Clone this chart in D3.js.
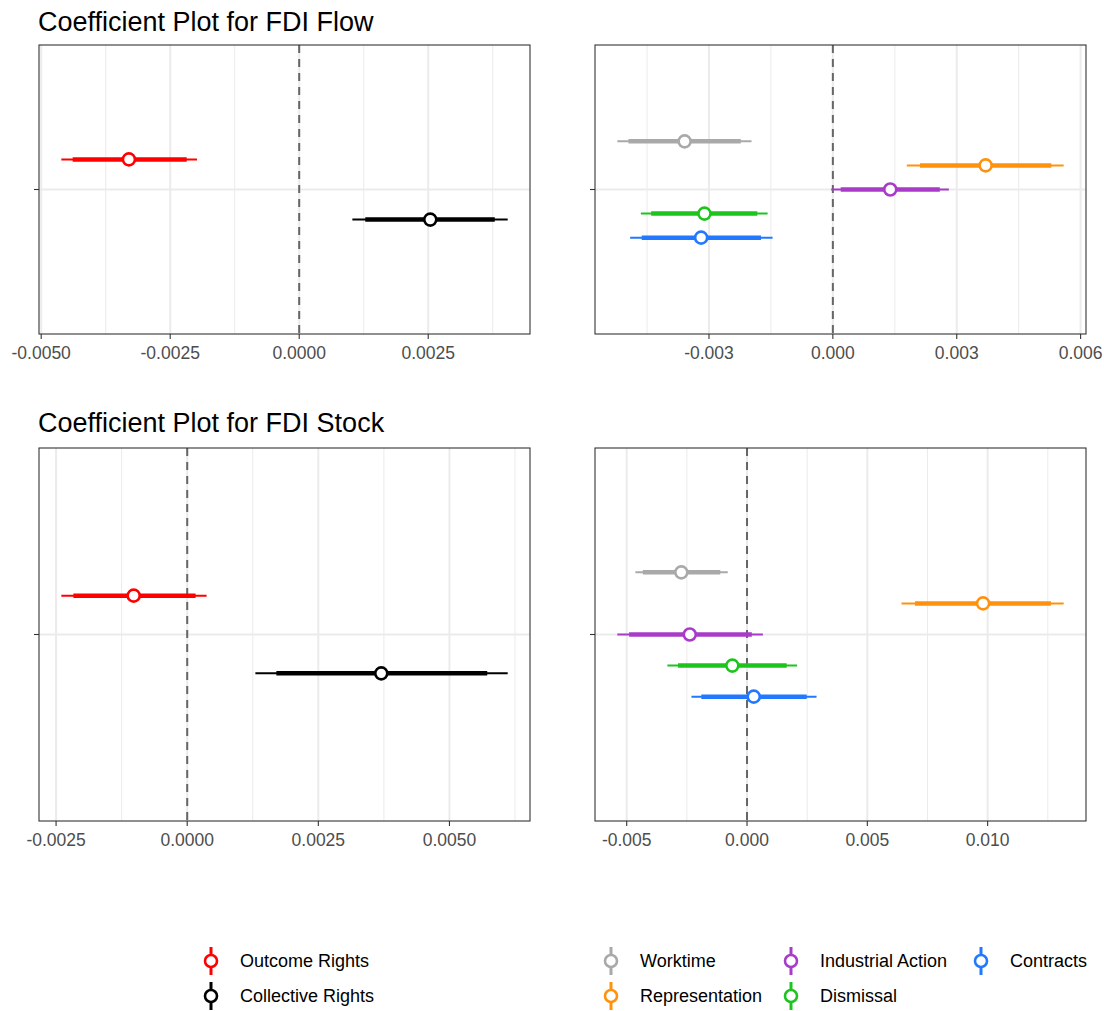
<!DOCTYPE html>
<html>
<head>
<meta charset="utf-8">
<script src="https://cdn.jsdelivr.net/npm/d3@7"></script>
<style>
  body { margin: 0; background: #fff; }
  svg { font-family: "Liberation Sans", Arial, sans-serif; }
</style>
</head>
<body>
<div id="chart"></div>
<script>
// ---- data ----
// each series: estimate, thick interval (lo, hi), thin interval (lo, hi)
var aggNames = ["Outcome Rights", "Collective Rights"]
var aggColors = ["#ff0000", "#000000"]

var subNames = ["Worktime", "Representation", "Industrial Action", "Dismissal", "Contracts"]
var subColors = ["#a9a9a9", "#ff920c", "#a83cc8", "#1ec41e", "#2279ff"]

// FDI flow
var flowAggEst   = [-0.00330, 0.00254]
var flowAggLo90  = [-0.00439, 0.00128]
var flowAggHi90  = [-0.00218, 0.00379]
var flowAggLo95  = [-0.00461, 0.00103]
var flowAggHi95  = [-0.00198, 0.00404]

var flowSubEst   = [-0.00359, 0.00370, 0.00139, -0.00311, -0.00319]
var flowSubLo90  = [-0.00495, 0.00211, 0.00019, -0.00440, -0.00463]
var flowSubHi90  = [-0.00223, 0.00529, 0.00259, -0.00183, -0.00174]
var flowSubLo95  = [-0.00522, 0.00179, -0.00004, -0.00465, -0.00491]
var flowSubHi95  = [-0.00197, 0.00559, 0.00281, -0.00158, -0.00146]

// FDI stock
var stockAggEst  = [-0.00102, 0.00370]
var stockAggLo90 = [-0.00217, 0.00170]
var stockAggHi90 = [0.00016, 0.00572]
var stockAggLo95 = [-0.00240, 0.00130]
var stockAggHi95 = [0.00037, 0.00611]

var stockSubEst  = [-0.00273, 0.00981, -0.00238, -0.00061, 0.00028]
var stockSubLo90 = [-0.00433, 0.00698, -0.00490, -0.00287, -0.00190]
var stockSubHi90 = [-0.00111, 0.01263, 0.00020, 0.00165, 0.00248]
var stockSubLo95 = [-0.00464, 0.00642, -0.00539, -0.00331, -0.00231]
var stockSubHi95 = [-0.00080, 0.01316, 0.00066, 0.00208, 0.00289]

// axis ticks
var flowAggTicks  = [-0.005, -0.0025, 0, 0.0025]
var flowAggLabels = ["-0.0050", "-0.0025", "0.0000", "0.0025"]
var flowSubTicks  = [-0.003, 0, 0.003, 0.006]
var flowSubLabels = ["-0.003", "0.000", "0.003", "0.006"]
var stockAggTicks  = [-0.0025, 0, 0.0025, 0.005]
var stockAggLabels = ["-0.0025", "0.0000", "0.0025", "0.0050"]
var stockSubTicks  = [-0.005, 0, 0.005, 0.01]
var stockSubLabels = ["-0.005", "0.000", "0.005", "0.010"]

var titles = ["Coefficient Plot for FDI Flow", "Coefficient Plot for FDI Stock"]

// ---- build ----
function rows(names, colors, est, lo90, hi90, lo95, hi95) {
  return names.map(function (n, i) {
    return {name: n, color: colors[i], est: est[i], lo90: lo90[i], hi90: hi90[i], lo95: lo95[i], hi95: hi95[i]}
  })
}

var svg = d3.select("#chart").append("svg")
  .attr("width", 1104)
  .attr("height", 1011)

var panels = [
  {x0: 39, x1: 530, y0: 45, y1: 334, data: rows(aggNames, aggColors, flowAggEst, flowAggLo90, flowAggHi90, flowAggLo95, flowAggHi95), ticks: flowAggTicks, labels: flowAggLabels},
  {x0: 595, x1: 1086, y0: 45, y1: 334, data: rows(subNames, subColors, flowSubEst, flowSubLo90, flowSubHi90, flowSubLo95, flowSubHi95), ticks: flowSubTicks, labels: flowSubLabels},
  {x0: 39, x1: 530, y0: 448, y1: 821, data: rows(aggNames, aggColors, stockAggEst, stockAggLo90, stockAggHi90, stockAggLo95, stockAggHi95), ticks: stockAggTicks, labels: stockAggLabels},
  {x0: 595, x1: 1086, y0: 448, y1: 821, data: rows(subNames, subColors, stockSubEst, stockSubLo90, stockSubHi90, stockSubLo95, stockSubHi95), ticks: stockSubTicks, labels: stockSubLabels}
]

panels.forEach(function (p) {
  var lo = d3.min(p.data, d => d.lo95), hi = d3.max(p.data, d => d.hi95)
  var pad = (hi - lo) * 0.05
  var x = d3.scaleLinear().domain([lo - pad, hi + pad]).range([p.x0, p.x1])
  var y = d3.scaleLinear().domain([0.4, 1.6]).range([p.y1, p.y0])
  var n = p.data.length
  // dodge, first series on top
  var yPos = function (i) { return y(1 + ((n - 1) / 2 - i) * 0.5 / n) }

  var g = svg.append("g")

  // minor grid (midpoints between ticks)
  var step = p.ticks[1] - p.ticks[0]
  var minor = []
  for (var k = -1; k < p.ticks.length; k++) {
    var m = p.ticks[0] + step * (k + 0.5)
    if (m > x.domain()[0] && m < x.domain()[1]) minor.push(m)
  }
  g.selectAll(".minor").data(minor).join("line")
    .attr("x1", d => x(d)).attr("x2", d => x(d))
    .attr("y1", p.y0).attr("y2", p.y1)
    .attr("stroke", "#ebebeb").attr("stroke-width", 1)

  g.selectAll(".major").data(p.ticks.filter(t => t >= x.domain()[0] && t <= x.domain()[1])).join("line")
    .attr("x1", d => x(d)).attr("x2", d => x(d))
    .attr("y1", p.y0).attr("y2", p.y1)
    .attr("stroke", "#ebebeb").attr("stroke-width", 2)

  g.append("line")
    .attr("x1", p.x0).attr("x2", p.x1)
    .attr("y1", y(1)).attr("y2", y(1))
    .attr("stroke", "#ebebeb").attr("stroke-width", 2)

  // zero line
  g.append("line")
    .attr("x1", x(0)).attr("x2", x(0))
    .attr("y1", p.y0).attr("y2", p.y1)
    .attr("stroke", "#666666").attr("stroke-width", 2)
    .attr("stroke-dasharray", "8,6")

  // thin intervals
  g.selectAll(".thin").data(p.data).join("line")
    .attr("x1", d => x(d.lo95)).attr("x2", d => x(d.hi95))
    .attr("y1", (d, i) => yPos(i)).attr("y2", (d, i) => yPos(i))
    .attr("stroke", d => d.color).attr("stroke-width", 2)

  // thick intervals
  g.selectAll(".thick").data(p.data).join("line")
    .attr("x1", d => x(d.lo90)).attr("x2", d => x(d.hi90))
    .attr("y1", (d, i) => yPos(i)).attr("y2", (d, i) => yPos(i))
    .attr("stroke", d => d.color).attr("stroke-width", 4.5)

  g.selectAll(".pt").data(p.data).join("circle")
    .attr("cx", d => x(d.est)).attr("cy", (d, i) => yPos(i))
    .attr("r", 6)
    .attr("fill", "#fff")
    .attr("stroke", d => d.color).attr("stroke-width", 2.6)

  // panel border
  g.append("rect")
    .attr("x", p.x0).attr("y", p.y0)
    .attr("width", p.x1 - p.x0).attr("height", p.y1 - p.y0)
    .attr("fill", "none").attr("stroke", "#333333").attr("stroke-width", 1.1)

  // x axis
  var ax = g.append("g").attr("transform", "translate(0," + p.y1 + ")")
  ax.selectAll("line").data(p.ticks).join("line")
    .attr("x1", d => x(d)).attr("x2", d => x(d))
    .attr("y1", 0).attr("y2", 5)
    .attr("stroke", "#333333").attr("stroke-width", 1.1)
  ax.selectAll("text").data(p.ticks).join("text")
    .attr("x", d => x(d)).attr("y", 25)
    .attr("text-anchor", "middle")
    .attr("fill", "#4d4d4d")
    .style("font-size", "17.5px")
    .text((d, i) => p.labels[i])

  // y tick (single discrete level, unlabeled)
  g.append("line")
    .attr("x1", p.x0 - 5).attr("x2", p.x0)
    .attr("y1", y(1)).attr("y2", y(1))
    .attr("stroke", "#333333").attr("stroke-width", 1.1)
})

// titles
svg.selectAll(".title").data(titles).join("text")
  .attr("x", 38)
  .attr("y", (d, i) => i === 0 ? 31 : 432)
  .style("font-size", "27px")
  .attr("fill", "#000")
  .text(d => d)

// legends
function legendKey(gx, gy, name, color) {
  var k = svg.append("g").attr("transform", "translate(" + gx + "," + gy + ")")
  k.append("line").attr("x1", 0).attr("x2", 0).attr("y1", -14).attr("y2", 14)
    .attr("stroke", color).attr("stroke-width", 3)
  k.append("circle").attr("r", 6).attr("fill", "#fff")
    .attr("stroke", color).attr("stroke-width", 2.6)
  k.append("text").attr("x", 29).attr("y", 0).attr("dy", "0.35em")
    .style("font-size", "18px").attr("fill", "#000").text(name)
}

var legRowY = [961, 996]
aggNames.forEach(function (n, i) { legendKey(211, legRowY[i], n, aggColors[i]) })

var subColX = [611, 791, 981]
subNames.forEach(function (n, i) {
  legendKey(subColX[Math.floor(i / 2)], legRowY[i % 2], n, subColors[i])
})
</script>
</body>
</html>
